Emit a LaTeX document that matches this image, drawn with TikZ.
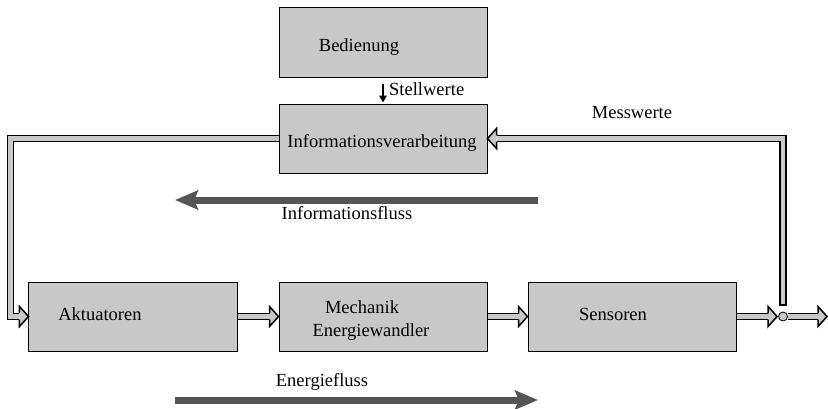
\documentclass[tikz,border=0pt]{standalone}
\usepackage{fontspec}
\setmainfont{Liberation Serif}
\usetikzlibrary{arrows.meta,calc}

\definecolor{boxgray}{HTML}{C8C8C8}
\definecolor{flowgray}{HTML}{555555}

\tikzset{
  block/.style={draw=black, line width=1bp, fill=boxgray, rectangle,
    minimum width=208bp, inner sep=0pt},
  lbl/.style={inner sep=0pt, font=\fontsize{18.5bp}{22bp}\selectfont},
  shaft/.style={draw=black, line width=1.5bp, double=boxgray, double distance=4.8bp},
  flow/.style={draw=flowgray, line width=7bp,
    -{Stealth[length=23bp, width=19bp, inset=4bp]}},
  fathead/.pic={
    \draw[line width=1.5bp, fill=boxgray, line join=miter]
      (-9,3.15) -- (-9,10) -- (0,0) -- (-9,-10) -- (-9,-3.15);
  }
}

\begin{document}
\begin{tikzpicture}[x=1bp, y=-1bp]
  \useasboundingbox (0,0) rectangle (828,408);

  % blocks
  \node[block, minimum height=70bp] (bed)  at (383,42)    {};
  \node[block, minimum height=69bp] (info) at (383,138.5) {};
  \node[block, minimum height=69bp] (akt)  at (133,316.5) {};
  \node[block, minimum height=69bp] (mech) at (383,316.5) {};
  \node[block, minimum height=69bp] (sens) at (632,316.5) {};

  % block texts
  \node[lbl] (tbed)  at (359,47)  {Bedienung};
  \node[lbl] (tinfo) at (382,143) {Informationsverarbeitung};
  \node[lbl] (takt)  at (100,314) {Aktuatoren};
  \node[lbl] (tmech1) at (362,307) {Mechanik};
  \node[lbl] (tmech2) at (371,332) {Energiewandler};
  \node[lbl] (tsens) at (613,314) {Sensoren};

  % junction point and auxiliary points
  \node[circle, draw=black, line width=0.8bp, fill=boxgray, minimum size=9bp,
        inner sep=0pt] (jn) at (783,316.5) {};
  \coordinate (lc)  at (10.5,0);
  \coordinate (vb)  at (783,305);
  \coordinate (out) at (827,316.5);

  % set values
  \draw[line width=1.6bp, -{Triangle[length=7bp, width=7.5bp]}]
    ([yshift=-6bp]bed.south) -- ([yshift=1bp]info.north);
  \node[lbl, anchor=west] (tstell) at (389,89) {Stellwerte};

  % control output to the actuators
  \draw[shaft] (info.west) -- (info.west -| lc) -- (akt.west -| lc)
    -- ([xshift=-9bp]akt.west);
  \pic at (akt.west) {fathead};

  % energy chain
  \draw[shaft] (akt.east) -- ([xshift=-9bp]mech.west);
  \pic at (mech.west) {fathead};
  \draw[shaft] (mech.east) -- ([xshift=-9bp]sens.west);
  \pic at (sens.west) {fathead};
  \draw[shaft] (sens.east) -- ([xshift=-10bp]jn.west);
  \pic at ([xshift=-1bp]jn.west) {fathead};
  \draw[shaft] (jn.east) -- ([xshift=-9bp]out);
  \pic at (out) {fathead};

  % measured values back to the processing
  \draw[shaft] (vb) -- (vb |- info.east) -- ([xshift=9bp]info.east);
  \draw[line width=1.5bp, line cap=rect] ([xshift=-3.15bp]vb) -- ([xshift=3.15bp]vb);
  \pic[rotate=180] at (info.east) {fathead};
  \node[lbl] (tmess) at (632,113) {Messwerte};

  % flow directions
  \coordinate (if1) at (538,200);
  \coordinate (if2) at (175,200);
  \draw[flow] (if1) -- (if2);
  \node[lbl] (tif) at (347,213) {Informationsfluss};

  \coordinate (ef1) at (175,400);
  \coordinate (ef2) at (538,400);
  \draw[flow] (ef1) -- (ef2);
  \node[lbl] (tef) at (322,382) {Energiefluss};
\end{tikzpicture}
\end{document}
